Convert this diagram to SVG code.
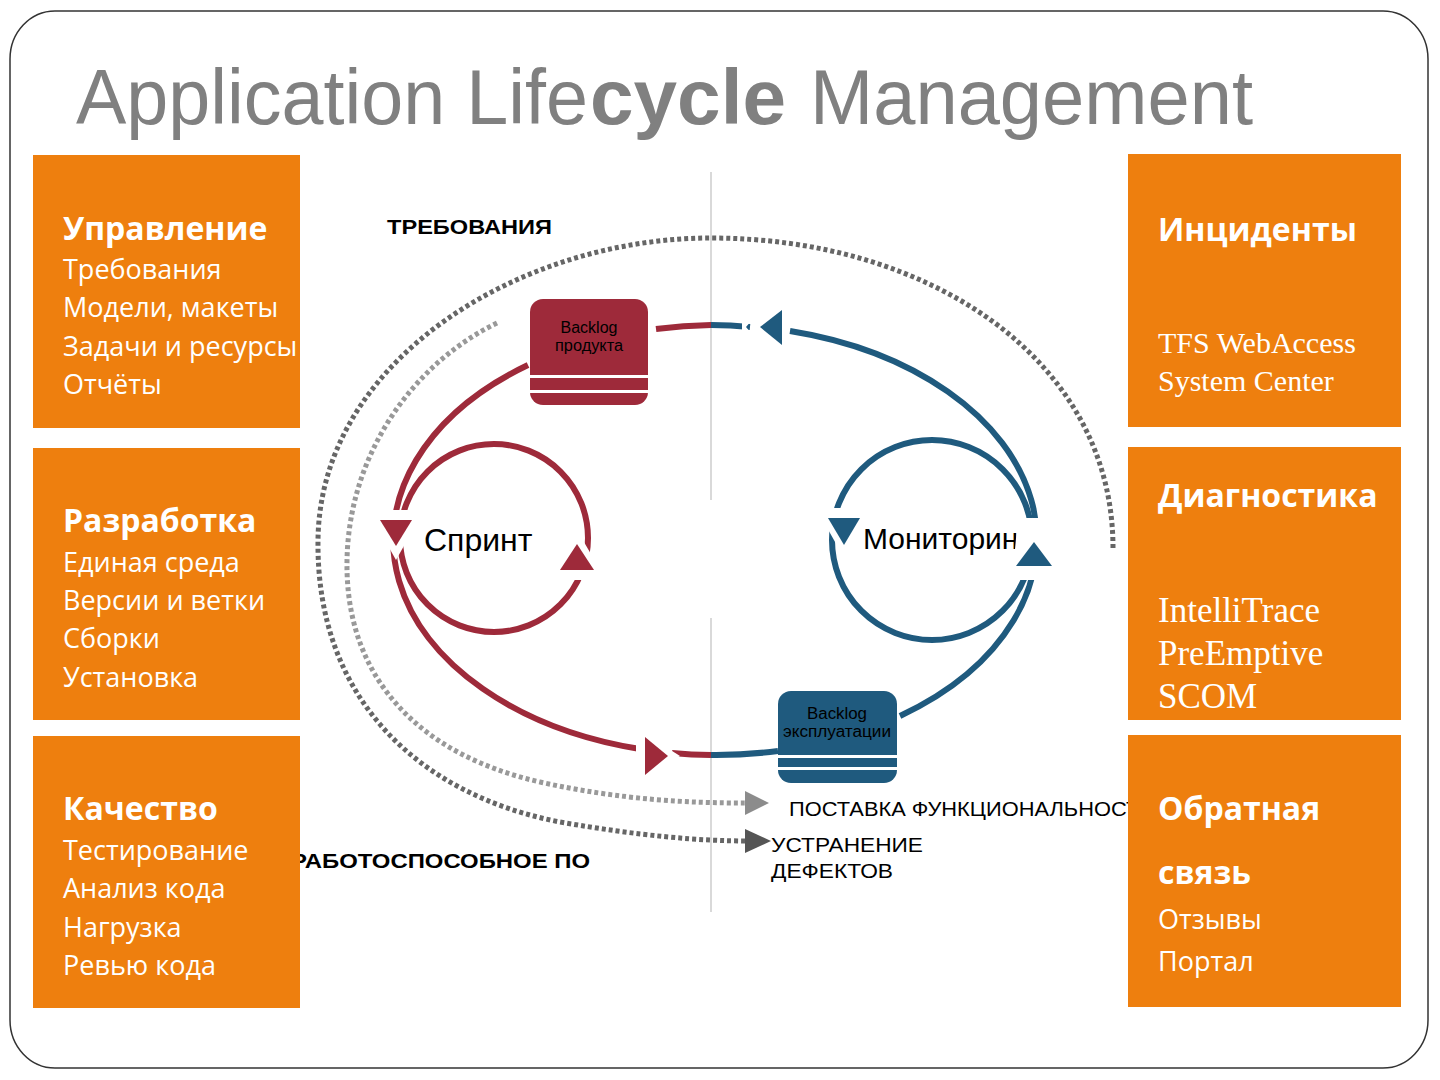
<svg xmlns="http://www.w3.org/2000/svg" width="1440" height="1080" viewBox="0 0 1440 1080">
<style>
.box{fill:#EE7F0E}
.hd{font-family:"Open Sans","Noto Sans",sans-serif;font-weight:700;font-size:32px;fill:#fff}
.bd{font-family:"Open Sans","Noto Sans",sans-serif;font-size:27px;fill:#fff}
.sf{font-family:"Liberation Serif",serif;fill:#fff}
.lbl{font-family:"Liberation Sans",Arial,sans-serif;fill:#000}
.red{fill:none;stroke:#9E2A3A;stroke-width:6}
.blue{fill:none;stroke:#1F5A7E;stroke-width:6}
.dot1{fill:none;stroke:#666;stroke-width:5;stroke-dasharray:4 3}
.dot2{fill:none;stroke:#999;stroke-width:5;stroke-dasharray:4 3}
.halo{fill:#fff}
.bl{font-family:"Liberation Sans",Arial,sans-serif;font-size:16px;fill:#000;text-anchor:middle}
</style>
<rect width="1440" height="1080" fill="#fff"/>
<rect id="frame" x="10" y="11" width="1418" height="1057" rx="45" ry="48" fill="#fff" stroke="#333" stroke-width="1.5"/>
<g id="title" font-family="Liberation Sans,Arial,sans-serif" font-size="78" fill="#808080">
<text x="76" y="124" textLength="512" lengthAdjust="spacingAndGlyphs">Application Life</text>
<text x="590" y="124" font-weight="700" textLength="196" lengthAdjust="spacingAndGlyphs">cycle</text>
<text x="810" y="124" textLength="443" lengthAdjust="spacingAndGlyphs">Management</text>
</g>
<line x1="711" y1="172" x2="711" y2="500" stroke="#ccc" stroke-width="1.5"/>
<line x1="711" y1="618" x2="711" y2="912" stroke="#ccc" stroke-width="1.5"/>
<g id="labels-behind">
<text class="lbl" x="291" y="868" font-size="21" font-weight="700" textLength="299" lengthAdjust="spacingAndGlyphs">РАБОТОСПОСОБНОЕ ПО</text>
<text class="lbl" x="789" y="816" font-size="20" textLength="366" lengthAdjust="spacingAndGlyphs">ПОСТАВКА ФУНКЦИОНАЛЬНОСТИ</text>
</g>
<g id="connectors">
<path class="dot1" d="M1113,548 C1113,360 930,238 711,238 C520,238 320,360 318,540 C316,700 420,795 560,822 C640,836 700,841 748,841"/>
<path class="dot2" d="M497,323 C410,365 345,460 347,570 C349,680 420,755 540,782 C620,800 690,803 745,803"/>
<polygon points="745,791 769,803 745,815" fill="#8c8c8c"/>
<polygon points="745,829 771,841 745,853" fill="#555"/>
<path class="red" d="M528,365 A322,215 0 0 0 640,749"/>
<path class="red" d="M656,329 A322,215 0 0 1 711,325"/>
<path class="blue" d="M711,325 A322,215 0 0 1 750,327"/>
<polygon points="742,320 752,320 746,327 752,334 742,334" fill="#fff"/>
<path class="blue" d="M790,331 A322,215 0 0 1 900,716"/>
<path class="blue" d="M778,751 A322,215 0 0 1 711,755"/>
<path class="red" d="M711,755 A322,215 0 0 1 672,753"/>
<circle cx="494" cy="538" r="94" class="red" stroke-width="5"/>
<circle cx="932" cy="540" r="100" class="blue" stroke-width="5"/>
</g>
<g id="sprint">
<text class="lbl" x="424" y="551" font-size="32">Спринт</text>
<polygon class="halo" points="368,510 424,510 396,560"/>
<polygon points="380,520 412,520 396,546" fill="#9E2A3A"/>
<polygon class="halo" points="548,580 606,580 577,530"/>
<polygon points="560,570 594,570 577,544" fill="#9E2A3A"/>
<polygon class="halo" points="636,728 680,756 636,784"/>
<polygon points="645,737 668,756 645,775" fill="#9E2A3A"/>
</g>
<g id="monitoring">
<text class="lbl" x="863" y="549" font-size="30">Мониторинг</text>
<polygon class="halo" points="816,508 872,508 844,558"/>
<polygon points="828,518 860,518 844,545" fill="#1F5A7E"/>
<polygon class="halo" points="1018,518 1050,518 1072,580 1012,580"/>
<polygon points="1016,566 1052,566 1034,542" fill="#1F5A7E"/>
<polygon class="halo" points="750,327 788,303 788,351"/>
<polygon points="760,327 782,310 782,345" fill="#1F5A7E"/>
</g>
<g id="backlog-product">
<rect x="530" y="299" width="118" height="106" rx="13" fill="#9E2A3A"/>
<rect x="530" y="375" width="118" height="3" fill="#fff"/>
<rect x="530" y="390" width="118" height="3" fill="#fff"/>
<text class="bl" x="589" y="333" textLength="57" lengthAdjust="spacingAndGlyphs">Backlog</text>
<text class="bl" x="589" y="351" textLength="68" lengthAdjust="spacingAndGlyphs">продукта</text>
</g>
<g id="backlog-ops">
<rect x="778" y="691" width="119" height="92" rx="13" fill="#1F5A7E"/>
<rect x="778" y="755" width="119" height="3" fill="#fff"/>
<rect x="778" y="767" width="119" height="3" fill="#fff"/>
<text class="bl" x="837" y="719" textLength="60" lengthAdjust="spacingAndGlyphs">Backlog</text>
<text class="bl" x="837" y="737" textLength="108" lengthAdjust="spacingAndGlyphs">эксплуатации</text>
</g>
<g id="labels">
<text class="lbl" x="387" y="234" font-size="21" font-weight="700" textLength="165" lengthAdjust="spacingAndGlyphs">ТРЕБОВАНИЯ</text>
<text class="lbl" x="771" y="852" font-size="21" textLength="152" lengthAdjust="spacingAndGlyphs">УСТРАНЕНИЕ</text>
<text class="lbl" x="771" y="878" font-size="21" textLength="122" lengthAdjust="spacingAndGlyphs">ДЕФЕКТОВ</text>
</g>
<g id="box-management">
<rect class="box" x="33" y="155" width="267" height="273"/>
<text class="hd" x="63" y="240">Управление</text>
<text class="bd" x="63" y="279">Требования</text>
<text class="bd" x="63" y="317">Модели, макеты</text>
<text class="bd" x="63" y="356">Задачи и ресурсы</text>
<text class="bd" x="63" y="394">Отчёты</text>
</g>
<g id="box-development">
<rect class="box" x="33" y="448" width="267" height="272"/>
<text class="hd" x="63" y="532">Разработка</text>
<text class="bd" x="63" y="572">Единая среда</text>
<text class="bd" x="63" y="610">Версии и ветки</text>
<text class="bd" x="63" y="648">Сборки</text>
<text class="bd" x="63" y="687">Установка</text>
</g>
<g id="box-quality">
<rect class="box" x="33" y="736" width="267" height="272"/>
<text class="hd" x="63" y="820">Качество</text>
<text class="bd" x="63" y="860">Тестирование</text>
<text class="bd" x="63" y="898">Анализ кода</text>
<text class="bd" x="63" y="937">Нагрузка</text>
<text class="bd" x="63" y="975">Ревью кода</text>
</g>
<g id="box-incidents">
<rect class="box" x="1128" y="154" width="273" height="273"/>
<text class="hd" x="1158" y="241">Инциденты</text>
<text class="sf" x="1158" y="353" font-size="30">TFS WebAccess</text>
<text class="sf" x="1158" y="391" font-size="30">System Center</text>
</g>
<g id="box-diagnostics">
<rect class="box" x="1128" y="447" width="273" height="273"/>
<text class="hd" x="1158" y="507">Диагностика</text>
<text class="sf" x="1158" y="622" font-size="35">IntelliTrace</text>
<text class="sf" x="1158" y="665" font-size="35">PreEmptive</text>
<text class="sf" x="1158" y="708" font-size="35">SCOM</text>
</g>
<g id="box-feedback">
<rect class="box" x="1128" y="735" width="273" height="272"/>
<text class="hd" x="1158" y="820">Обратная</text>
<text class="hd" x="1158" y="884">связь</text>
<text class="bd" x="1158" y="929" font-size="35">Отзывы</text>
<text class="bd" x="1158" y="971" font-size="35">Портал</text>
</g>
</svg>
